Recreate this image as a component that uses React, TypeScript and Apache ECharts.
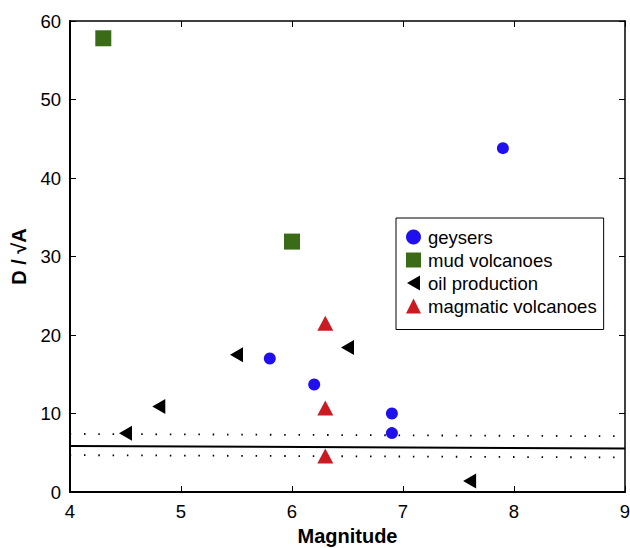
import React, { useEffect, useRef } from "react";
import * as echarts from "echarts";

const geysers: [number, number][] = [
  [5.8, 17.0],
  [6.2, 13.7],
  [6.9, 10.0],
  [6.9, 7.5],
  [7.9, 43.8],
];
const mudVolcanoes: [number, number][] = [
  [4.3, 57.8],
  [6.0, 31.9],
];
const oilProduction: [number, number][] = [
  [4.5, 7.5],
  [4.8, 10.9],
  [5.5, 17.5],
  [6.5, 18.4],
  [7.6, 1.4],
];
const magmaticVolcanoes: [number, number][] = [
  [6.3, 21.5],
  [6.3, 10.7],
  [6.3, 4.6],
];
const fitLine: [number, number][] = [
  [4, 5.85],
  [9, 5.55],
];
const upperBound: [number, number][] = [
  [4, 7.4],
  [9, 7.1],
];
const lowerBound: [number, number][] = [
  [4, 4.7],
  [9, 4.4],
];

const FONT = "'Liberation Sans', Arial, Helvetica, sans-serif";
const LEFT_TRI = "path://M13,0 L0,7.5 L13,15 Z";

export default function App() {
  const ref = useRef<HTMLDivElement>(null);
  useEffect(() => {
    if (!ref.current) return;
    const chart = echarts.init(ref.current, undefined, { renderer: "svg" });
    const axisCommon = {
      axisLine: { show: true, onZero: false, lineStyle: { color: "#000", width: 2 } },
      axisTick: { show: true, inside: true, length: 6, lineStyle: { color: "#000", width: 1 } },
      splitLine: { show: false },
    };
    chart.setOption({
      animation: false,
      backgroundColor: "#fff",
      textStyle: { fontFamily: FONT },
      grid: { left: 70, right: 5, top: 21, bottom: 56, containLabel: false, outerBoundsMode: "none" },
      legend: {
        show: true,
        orient: "vertical",
        left: 396,
        top: 218,
        backgroundColor: "#fff",
        borderColor: "#000",
        borderWidth: 1,
        borderRadius: 0,
        padding: [9.5, 7, 14, 10],
        itemWidth: 15,
        itemHeight: 15,
        itemGap: 4,
        textStyle: { fontSize: 18.5, color: "#000", fontFamily: FONT, padding: [0, 0, 0, 2] },
        data: [
          { name: "geysers", icon: "circle" },
          { name: "mud volcanoes", icon: "rect" },
          { name: "oil production", icon: LEFT_TRI },
          { name: "magmatic volcanoes", icon: "triangle" },
        ],
      },
      xAxis: [
        {
          type: "value",
          min: 4,
          max: 9,
          interval: 1,
          name: "Magnitude",
          nameLocation: "middle",
          nameGap: 31,
          nameTextStyle: { fontSize: 20, fontWeight: "bold", color: "#000", fontFamily: FONT },
          axisLabel: { fontSize: 18.5, color: "#000", margin: 10, fontFamily: FONT },
          ...axisCommon,
        },
        {
          type: "value",
          position: "top",
          min: 4,
          max: 9,
          interval: 1,
          axisLabel: { show: false },
          ...axisCommon,
          axisLine: { show: true, onZero: false, lineStyle: { color: "#000", width: 1.5 } },
        },
      ],
      yAxis: [
        {
          type: "value",
          min: 0,
          max: 60,
          interval: 10,
          name: "D / √A",
          nameLocation: "middle",
          nameRotate: 90,
          nameGap: 41,
          nameTextStyle: { fontSize: 20, fontWeight: "bold", color: "#000", fontFamily: FONT },
          axisLabel: { fontSize: 18.5, color: "#000", margin: 9, fontFamily: FONT },
          ...axisCommon,
        },
        {
          type: "value",
          position: "right",
          min: 0,
          max: 60,
          interval: 10,
          axisLabel: { show: false },
          ...axisCommon,
          axisLine: { show: true, onZero: false, lineStyle: { color: "#000", width: 1.5 } },
        },
      ],
      series: [
        {
          name: "fit",
          type: "line",
          data: fitLine,
          symbol: "none",
          silent: true,
          lineStyle: { color: "#000", width: 2 },
          z: 1,
        },
        {
          name: "upper",
          type: "line",
          data: upperBound,
          symbol: "none",
          silent: true,
          lineStyle: { color: "#000", width: 1.8, type: [1.5, 12.8], dashOffset: -14 },
          z: 1,
        },
        {
          name: "lower",
          type: "line",
          data: lowerBound,
          symbol: "none",
          silent: true,
          lineStyle: { color: "#000", width: 1.8, type: [1.5, 12.8], dashOffset: -14 },
          z: 1,
        },
        {
          name: "geysers",
          type: "scatter",
          data: geysers,
          symbol: "circle",
          symbolSize: 12,
          itemStyle: { color: "#2010f0", opacity: 1 },
          z: 3,
        },
        {
          name: "mud volcanoes",
          type: "scatter",
          data: mudVolcanoes,
          symbol: "rect",
          symbolSize: 16,
          itemStyle: { color: "#3b6b16", opacity: 1 },
          z: 3,
        },
        {
          name: "oil production",
          type: "scatter",
          data: oilProduction,
          symbol: LEFT_TRI,
          symbolSize: [13, 15],
          itemStyle: { color: "#000", opacity: 1 },
          z: 3,
        },
        {
          name: "magmatic volcanoes",
          type: "scatter",
          data: magmaticVolcanoes,
          symbol: "triangle",
          symbolSize: [16, 15],
          itemStyle: { color: "#cc1a22", opacity: 1 },
          z: 3,
        },
      ],
    });
    return () => chart.dispose();
  }, []);
  return <div ref={ref} style={{ width: 630, height: 548, position: "absolute", left: 0, top: 0 }} />;
}
